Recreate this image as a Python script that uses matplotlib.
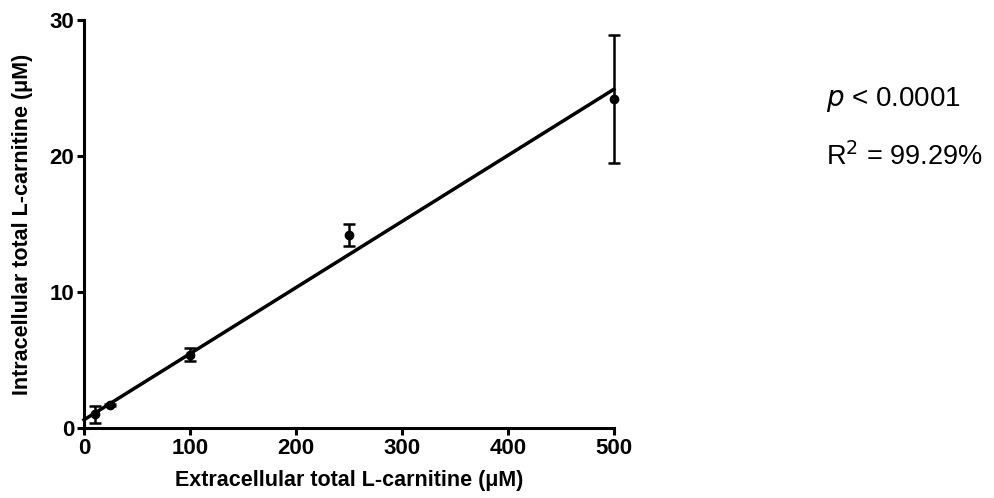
import matplotlib
matplotlib.use("Agg")
import matplotlib.pyplot as plt
import numpy as np

plt.rcParams['font.family'] = ['Liberation Sans', 'DejaVu Sans']

# data
conc = [10, 25, 100, 250, 500]          # extracellular (uM)
intra = [1.0, 1.7, 5.4, 14.2, 24.2]     # intracellular (uM)
err = [0.6, 0.05, 0.45, 0.8, 4.7]
fit_x = [0, 500]
fit_y = [0.6, 24.9]

fig = plt.figure(figsize=(9.94, 4.98), dpi=100)
ax = fig.add_axes([0.0845, 0.1406, 0.533, 0.8193])

ax.plot(fit_x, fit_y, color="black", linewidth=2.5, clip_on=False)
eb = ax.errorbar(conc, intra, yerr=err, fmt="o", color="black", markersize=6,
                 elinewidth=1.8, capsize=4.5, capthick=1.8)
for art in eb.get_children():
    art.set_clip_on(False)

ax.set_xlim(0, 500)
ax.set_ylim(0, 30)
ax.set_xticks([0, 100, 200, 300, 400, 500])
ax.set_yticks([0, 10, 20, 30])
for s in ["top", "right"]:
    ax.spines[s].set_visible(False)
for s in ["left", "bottom"]:
    ax.spines[s].set_linewidth(2.2)
ax.tick_params(width=2.2, length=5, labelsize=16, direction="out", pad=2)
for lbl in ax.get_xticklabels() + ax.get_yticklabels():
    lbl.set_fontweight("bold")

ax.set_xlabel("Extracellular total L-carnitine (\u03bcM)", fontsize=15.5,
              fontweight="bold", labelpad=8)
ax.set_ylabel("Intracellular total L-carnitine (\u03bcM)", fontsize=15.5,
              fontweight="bold", labelpad=12)

fig.text(0.831, 0.80, "$\\it{p}$ < 0.0001", fontsize=20, va="center",
         ha="left")
fig.text(0.831, 0.685, "R$^2$ = 99.29%", fontsize=19.5, va="center", ha="left")

fig.savefig("out.png", dpi=100)
